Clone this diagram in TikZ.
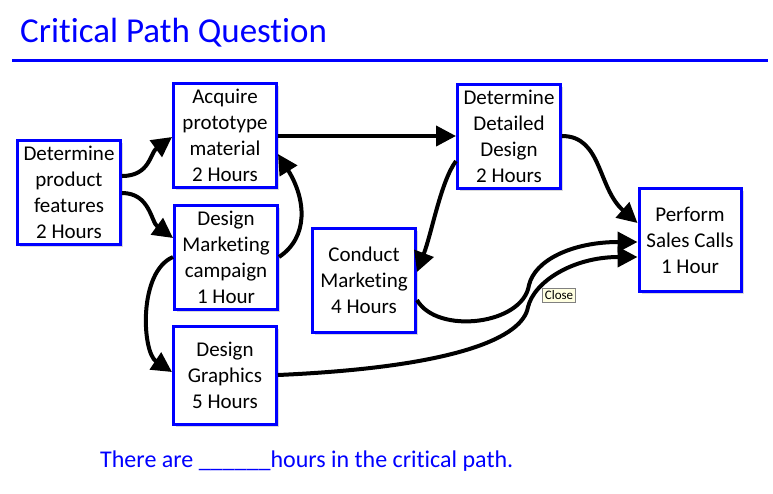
\documentclass[tikz,border=0pt]{standalone}
\usepackage{fontspec}
\setmainfont{Carlito}[Ligatures={NoCommon}]
\usepackage{xcolor}
\usepackage{tikz}
\usetikzlibrary{arrows.meta, shadows}

\definecolor{slideblue}{RGB}{0,0,255}
\definecolor{tipyellow}{RGB}{255,255,225}

\begin{document}
\begin{tikzpicture}[
    x=1pt, y=1pt,
    task/.style={rectangle, draw=slideblue, fill=white, line width=3pt, minimum width=103pt, minimum height=104pt, inner sep=0pt, align=center, font=\fontsize{21}{26}\selectfont, drop shadow={shadow xshift=2.5pt, shadow yshift=-2.5pt, opacity=0.3}},
    arrow/.style={-{Triangle[length=20pt, width=20pt]}, line width=4pt}
]
\useasboundingbox (0,0) rectangle (773,-493);
% title and rule
\node (title) [anchor=base west, inner sep=0pt, text=slideblue, font=\fontsize{35}{42}\selectfont] at (20,-42) {Critical Path Question};
\draw [slideblue, line width=3pt] (12,-60) -- (768,-60);
% tasks
\node (features) [task] at (69,-192) {Determine\\product\\features\\2 Hours};
\node (acquire) [task] at (225,-135) {Acquire\\prototype\\material\\2 Hours};
\node (campaign) [task] at (226,-257) {Design\\Marketing\\campaign\\1 Hour};
\node (graphics) [task, minimum height=98pt] at (225,-375) {Design\\Graphics\\5 Hours};
\node (conduct) [task] at (364,-280) {Conduct\\Marketing\\4 Hours};
\node (detailed) [task] at (509,-136) {Determine\\Detailed\\Design\\2 Hours};
\node (perform) [task, minimum width=102pt, minimum height=103pt] at (690,-240) {Perform\\Sales Calls\\1 Hour};
% dependencies
\draw [arrow] ([yshift=16pt]features.east) .. controls +(28,0) and +(-22,-16) .. ([yshift=-2pt]acquire.west);
\draw [arrow] ([yshift=-1pt]features.east) .. controls +(28,0) and +(-22,16) .. ([yshift=19pt]campaign.west);
\draw [arrow] (campaign.east) .. controls +(30,20) and +(28,-45) .. ([yshift=-19pt]acquire.east);
\draw [arrow] (campaign.west) .. controls +(-35,-15) and +(-30,20) .. ([yshift=3pt]graphics.west);
\draw [arrow] ([yshift=-1pt]acquire.east) -- (detailed.west);
\draw [arrow] ([yshift=-25pt]detailed.west) .. controls +(-15,-20) and +(15,40) .. ([yshift=8pt]conduct.east);
\draw [arrow] (detailed.east) .. controls +(40,0) and +(-40,35) .. ([yshift=17pt]perform.west);
\draw [arrow] ([yshift=-20pt]conduct.east) .. controls +(20,-35) and +(-6,-40) .. ++(112,15) .. controls +(6,25) and +(-65,0) .. ([yshift=-2pt]perform.west);
\draw [arrow] (graphics.east) .. controls +(180,8) and +(-5,-30) .. ++(250,68) .. controls +(6,25) and +(-65,0) .. ([yshift=-17pt]perform.west);
% tooltip
\node (close) [draw=gray, fill=tipyellow, inner sep=2.5pt, font=\fontsize{13}{15}\selectfont] at (559,-295) {Close};
% question
\node (question) [anchor=base west, inner sep=0pt, text=slideblue, font=\fontsize{24}{29}\selectfont] at (100,-467) {There are \_\_\_\_\_\_hours in the critical path.};
\end{tikzpicture}
\end{document}
